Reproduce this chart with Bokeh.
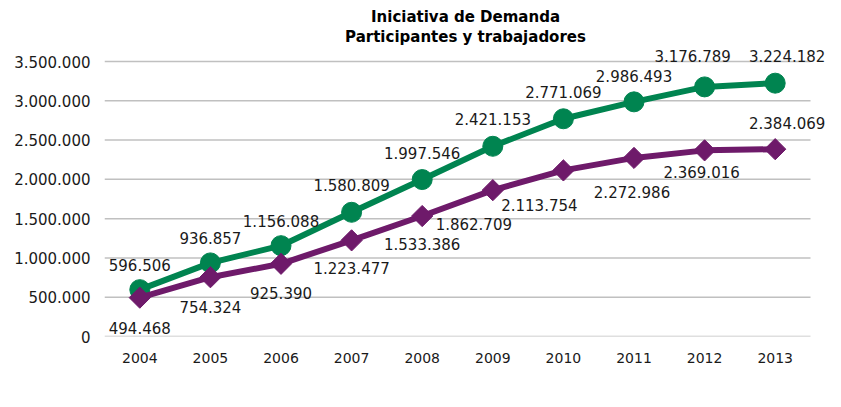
import numpy as np
from bokeh.plotting import figure
from bokeh.models import (ColumnDataSource, Range1d, Legend, LegendItem,
                          Title, CustomJSTickFormatter, FixedTicker, LabelSet)
from bokeh.embed import file_html
from bokeh.resources import INLINE
from bokeh.core.properties import value

years = ["2004", "2005", "2006", "2007", "2008", "2009", "2010", "2011", "2012", "2013"]
participantes = [596506, 936857, 1156088, 1580809, 1997546, 2421153, 2771069, 2986493, 3176789, 3224182]
trabajadores = [494468, 754324, 925390, 1223477, 1533386, 1862709, 2113754, 2272986, 2369016, 2384069]
y_ticks = [0, 500000, 1000000, 1500000, 2000000, 2500000, 3000000, 3500000]

# label placement (screen pixels, positive = up), layout only
p_dx = [0, 0, 0, 0, 0, 0, 0, 0, -12, 12]
p_dy = [25, 25, 25, 27, 27, 27, 27, 26, 31, 27]
t_dx = [0, 0, 0, 0, 0, -19, -24, -2, -3, 12]
t_dy = [-30, -30, -29, -28, -28, -34, -35, -34, -22, 26]

GREEN = "#008450"
PURPLE = "#6E1A6A"
FONT = "DejaVu Sans"


def fmt(v):
    return f"{v:,}".replace(",", ".")


n = len(years)
xpos = list(np.arange(n) + 0.5)
src_p = ColumnDataSource(dict(x=xpos, y=participantes, lab=[fmt(v) for v in participantes], dx=p_dx, dy=p_dy))
src_t = ColumnDataSource(dict(x=xpos, y=trabajadores, lab=[fmt(v) for v in trabajadores], dx=t_dx, dy=t_dy))

# frame: 722 x 291 px; categories occupy 706 px, gridded values occupy 275 px
y_top = y_ticks[-1] * 291 / 275
p = figure(width=841, height=407, frame_width=722, frame_height=291,
           x_range=Range1d(0, n * 722 / 706),
           y_range=Range1d(0, y_top), output_backend="svg", toolbar_location=None,
           min_border_left=104, min_border_right=15, min_border_top=45, min_border_bottom=71)
p.outline_line_color = None
p.background_fill_color = "white"
p.border_fill_color = "white"

# titles
t2 = Title(text="Participantes y trabajadores", align="center", text_font=FONT,
           text_font_size="15px", text_font_style="bold", text_color="black", standoff=0)
t1 = Title(text="Iniciativa de Demanda", align="center", text_font=FONT,
           text_font_size="15px", text_font_style="bold", text_color="black", standoff=0)
p.add_layout(t2, "above")
p.add_layout(t1, "above")

# axes
p.yaxis.ticker = FixedTicker(ticks=y_ticks)
p.yaxis.formatter = CustomJSTickFormatter(code="return tick.toString().replace(/\\B(?=(\\d{3})+(?!\\d))/g, '.');")
p.xaxis.ticker = FixedTicker(ticks=xpos)
p.xaxis.major_label_overrides = {float(x): y for x, y in zip(xpos, years)}
for ax in (p.xaxis[0], p.yaxis[0]):
    ax.axis_line_color = None
    ax.major_tick_line_color = None
    ax.minor_tick_line_color = None
    ax.major_tick_out = 0
    ax.major_tick_in = 0
    ax.major_label_text_font = FONT
    ax.major_label_text_color = "#1a1a1a"
    ax.major_label_standoff = 14
p.xaxis.major_label_standoff = 16
p.yaxis.major_label_text_font_size = "15px"
p.xaxis.major_label_text_font_size = "14px"
p.xgrid.grid_line_color = None
p.ygrid.grid_line_color = None

# horizontal gridlines over the category span only
p.segment(x0=[0] * len(y_ticks), x1=[n] * len(y_ticks), y0=y_ticks, y1=y_ticks,
          line_color="#c0c0c0", line_width=1.5)

# series
lp = p.line("x", "y", source=src_p, line_color=GREEN, line_width=6)
sp = p.scatter("x", "y", source=src_p, marker="circle", size=20, fill_color=GREEN, line_color=GREEN)
lt = p.line("x", "y", source=src_t, line_color=PURPLE, line_width=6)
st = p.scatter("x", "y", source=src_t, marker="square", angle=np.pi / 4, size=15,
               fill_color=PURPLE, line_color=PURPLE)

for src in (src_p, src_t):
    p.add_layout(LabelSet(x="x", y="y", text="lab", source=src, x_offset="dx", y_offset="dy",
                          text_align="center", text_baseline="middle", text_font=value(FONT),
                          text_font_size="15px", text_color="#1a1a1a"))

legend = Legend(items=[LegendItem(label="Participantes formados", renderers=[lp, sp]),
                       LegendItem(label="Trabajadores formados", renderers=[lt, st])],
                orientation="horizontal", location=(-2, 12),
                glyph_width=45, glyph_height=22, label_height=14, label_text_font=FONT,
                label_text_font_size="14px", label_text_color="#1a1a1a",
                label_standoff=3, spacing=51, padding=0, margin=0,
                border_line_color=None, background_fill_alpha=0)
p.add_layout(legend, "below")

open("out.html", "w").write(file_html(p, INLINE))
